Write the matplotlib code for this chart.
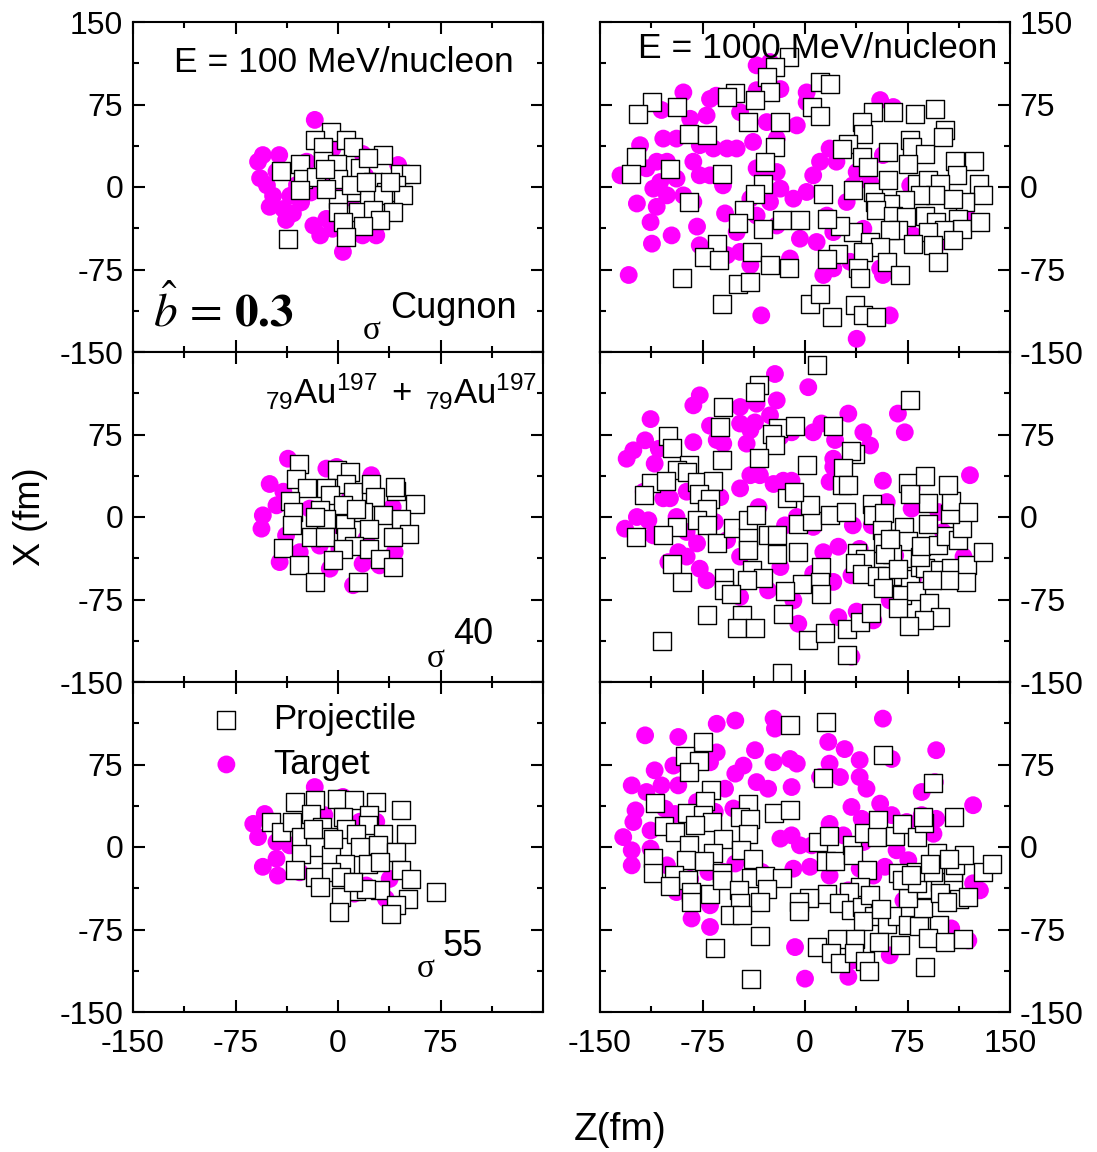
import numpy as np
import matplotlib
matplotlib.use("Agg")
import matplotlib.pyplot as plt

plt.rcParams['font.family'] = ['Liberation Sans', 'DejaVu Sans']
plt.rcParams['mathtext.fontset'] = 'stix'

# ---- panel data, Z (fm) and X (fm) ----
# E = 100 MeV/nucleon, sigma Cugnon
t1_z = [-17, -55, -43, -58.5, -52, -50, -40, -33, -18, -13, 3.6, 28, 18, 44, 18, -4, -23, -35, -27,
        -8.5, -4, -57, -47.5, -10, 0, 10, -20, 20, -45, -30, -38]
t1_x = [61, 29, 29, 23, 1.5, -18, -20, -24, -35, -44, -59, -44, -44, 20, 30, 35, 23, -8, -14,
        -29, -38, 8, -8, 10, 0, -10, -5, 10, 14, 2, -30]
p1_z = [-5, 6, 11, -17, -11, 33, -28, -41.5, -11, -1, 16, 22, 45, 53.7, -25.6, -16, 0, 25.6, 42.7, 35,
        47.5, -28, 12, 0, 23, 33, 0, 14.6, 25.6, 40, 30.5, 3.6, 18, 6, -36.6, -9.8, 9.8, -8.5, 20.7, 37.8]
p1_x = [50, 42.5, 36, 42.5, 36, 29, 21, 15, 24, 21, 17, 26, 12, 12, 7.6, 9, 7.6, 4.5, 1.5, -4.5,
        -7.6, -3, -4.5, -10.6, -10.6, -7.6, -22.7, -22.7, -21, -22.7, -30, -32, -35, -45.5, -47, 16.7, 1.5, -1.5, 4.5, 4.5]

# E = 1000 MeV/nucleon, sigma Cugnon
t2_z = [-89, -105, -84, -69.5, -65, -72, -103.7, -94, -120.7, -135, -116, -108.5, -101, -94, -106, -111, -101,
        -81.7, -77, -69.5, -60, -81.7, -89, -123, -108.5, -113, -112, -97.6, -79, -77, -58.5, -50, -129, -57,
        -47.5, -40, -32, -67, -57, -50, -77, -47.5, -38, -35.4, -25.6, -35.4, -18, -28, -6, -20.7, -35.4, -28,
        -20.7, -40, -25.6, -18, -8.5, -35.4, -20.7, -3.7, 8.5, -11, 1.2, 1.2, 11, 6, 1.2, 18, 23, 16, 20.7,
        13.4, 20.7, 33, 30.5, 42.7, 37.8, 47.6, 55, 64.6, 57, 57, 62, 37.8, 55, 79, 96, 118, 77, 35]
t2_x = [86, 70, 62, 80, 83, 65, 44, 44, 38, 10.6, 17, 23, 23, 7.6, 4.5, -1.5, -7.6,
        23, 10.6, 10.6, 1.5, -13.6, -7.6, -15, -18, -32, -51.5, -44, -36, -53, -24, -41, -80, -62,
        -59, -71, -116.7, 35, 35, 35, 38, 68, 41, 110.6, 113.6, 88, 89, 59, 56, 44, 17, 17,
        13.6, -10.6, -13.6, -1.5, -10.6, -26, -35, -47, -50, -65, 86, 77, 23, 10.6, -4.5, 35, 23, -26, -41,
        -80, -74, -68, -13.6, -38, 13.6, 4.5, 79, 72.7, 29, -80, -116.7, -138, -74, -44, -53, -26, 1.5, 1.5]
p2_z = [-12, -22, -28, 11, 18, -25.6, -51, -57, -36.6, -112, -94, -122, 5, 11, 50, 64.6, 80.5, 95, -41.5, -18,
        41.5, -85, -72, 102.4, 101, 42.7, 31.7, 27, -22, 77, 78, 88, 61, -124, -99, -127, -61, -29, 41.5, 46,
        75.6, 110, 124, 111, -30.5, -36.6, -85, -45, -48.8, -17, -3.7, -30.5, 13.4, 35, 50, 61, 81.7, 90, 98.8, 127,
        130.5, 117, 108.5, 95, 84, 73, 62, 51, 52, 64.6, 74, 88, 96, 112, 114.6, 128, 102, 90, 68, 62,
        35, 25.6, 16, 47.6, 55, 79, 94, 108.5, 42.7, 24.4, 16, 59.8, 39, 69.5, 97.6, -39, -64.6, -74, -63, -25.6,
        -12, -90, -48.8, -40, -61, 3.7, 11, 36.6, 19.5, 42.7, 52, 40]
p2_x = [118, 109, 100, 95.5, 94, 86, 85, 82, 79, 77, 73, 66.7, 73, 65, 68, 68, 66.7, 71, 59, 59,
        59, 48.5, 47, 51.5, 45.5, 48.5, 39.4, 35, 36.4, 42.5, 36.4, 30, 32, 27, 16.7, 12, 12, 22.7, 27, 18,
        21, 24, 24, 10.6, 3, -6, -13.6, -21, -33, -30, -30, -38, -6, -3, -4.5, 6, 3, 6, 3, 3,
        -7.6, -13.6, -10.6, -7.6, -7.6, -12, -15, -13.6, -21, -26, -27, -26, -32, -29, -38, -32, -39, -41, -39, -39,
        -41, -35, -29, -50, -54.5, -51.5, -53, -48.5, -59, -60.6, -65, -68, -74, -80, -68, -59, -51.5, -63.6, -66.7, -71,
        -74, -83, -88, -86, -106, -106, -97, -107.6, -118, -116.7, -118, -83]

# E = 100 MeV/nucleon, sigma = 40
t3_z = [-36.6, -50, -55, -56, -42.7, -6, 11, 18, 30.5, 41.5, 24.4, -8.5, -1, 40, -28, -38, -45, -40, -13.4, 1,
        20.7, -20.7, -3.7, 8.5]
t3_x = [53, 30, 1.5, -10.6, -41, -47, -62, -42.5, -44, -32, 38, 44, 45.5, 9, -32, -16.7, 10.6, 23, -26, -29,
        -20, 7.6, -7.6, 16.7]
p3_z = [-28.8, -30.5, -23, -1, 8.5, 6, -8.5, -6, 11, 24.4, 27, 42.7, 41.5, 56, -35.4, -33, -13.4, 3.7, 18, 33,
        46, 52, -8.5, 5, 23, 40, -34, -19.5, -9.8, 6, 12, 23, 3.7, -40, -3.7, 30.5, 40, -28.8, -16.6, 14.6,
        -17, 13.4]
p3_x = [48.5, 35, 26, 42.5, 41, 30, 26, 19.7, 22.7, 30, 18, 24, 27, 12, 15, 4.5, 6, 10.6, 5, 1.5,
        -1.5, -15, -1.5, -6, -10.6, -18, -7.6, -18, -18, -18, -26, -29, -29, -28, -39, -38, -45.5, -44, -59, -59,
        0, 7.6]

# E = 1000 MeV/nucleon, sigma = 40
t4_z = [-22, 2.4, -77, -81.7, -47.5, -35.4, -20.7, -25.6, -47.5, -36.6, -69.5, -113, -117, -125.6, -130.5, -107,
        -110, -81.7, -64.6, -59.8, -42.7, -40, -18, -9.8, 6, 12, 31.7, 42.7, 47.6, 22, 20.7, 20.7, 68, 73, 120.7,
        57, 78, 59.8, 78, 97.6, 101, 116, 18, -47.5, -40, -33, -23, -15.9, -9.8, -34, -6, -14.6, 6, 35, 48.8,
        -118, -103.7, -98.8, -86.6, -62, -123, -114.6, -131.7, -111, -94, -86.6, -79, -66, -57, -92.7, -86.6, -100,
        -77, -72, -47.5, -47.5, -27, -18, -8.5, -4.9, 13.4, 24.4, 6, 20.7, 40, 34, 62, 24.4, 37.8, 50, 34, 79,
        66, 105]
t4_x = [130, 118, 110.6, 101.5, 100, 103, 106, 92.4, 85, 86, 83, 89, 69.7, 60.6, 53, 62,
        48.5, 68, 70, 66.7, 66.7, 79, 73, 77, 77, 85, 94, 77, 65, 70, 53, 45.5, 94, 77, 38,
        33, 26, 13.6, 7.6, 4.5, -13.6, -36, 32, 26, 38, 38, 30, 33, 33, 9, 0, -7.6, -9, -7.6, -7.6,
        23, 17, 17, 23, 18, 0, -3, -10.6, -16.7, 0, -13.6, -24, -4.5, -21, -32, -36, -41,
        -47, -57.6, -36, -72.7, -66.7, -45.5, -75.8, -97, -32, -27, -51.5, -59, -29, -53, -75.8, -91, -86, -94, -127, -56,
        -35, -47]
p4_z = [8.5, -34, -36.6, -60, 77, -62, -19.5, -7.3, 20.7, -24.4, -22, -100, -97.6, -61, -34, 1.2, 36.6, 34, 27.6, -85,
        -93.4, -86.6, -113, -102, -118, -79, -67, -77.6, -69.5, -72, -79, -71.5, -94, -103.7, -124, -64.6, -97.6, -90,
        -52.4, -41.5, -42, -41.5, -36, -27, -20.7, -20.7, -4.9, -4.9, 5, 3.7, -13.4, -8, 18, 30, 26.8, 31.7, 12, 11,
        11.5, -2.4, -15, -39, -31, -42.7, -59, -59, -54, -72, -46, -49.5, -36.6, -15.9, -105, -17, 2.4, 14.6, 30.5,
        31, 40, 48, 48.8, 50, 58, 56, 67, 72.4, 75.6, 57, 63.4, 58.5, 37.8, 44, 36.6, 42, 52.4, 59.8, 72, 77,
        56.8, 70.7, 81, 68.3, 91, 98.8, 87, 76, 84, 87.8, 98.8, 107, 118.8, 118, 105, 93, 84, 85, 97.6, 103, 112,
        114.6, 106, 107, 119, 89.8, 89.8, 75.6, 77, 88, 104.4, 130, 62, 68]
p4_x = [138, 119.7, 114, 100, 106, 82, 81, 83, 82.7, 75.8, 65.8, 74, 62.7, 51.5, 53.6, 47, 57.6, 59.7, 44.5, 47,
        43, 41, 31, 32.4, 20.3, 31.8, 32.4, 21, 16.7, 7.6, -3, -7.6, -9, -16, -18, -24, -42.4, -59,
        -10, -18, -30, -2.4, 2, -16, -16.7, -34, -32, -6, -4, 10.6, 17, 22.7, 1.5, 5, 29, 29, -45.5, -59,
        -69.7, -60.6, -67.6, -48, -55, -57, -55.5, -66.7, -69.7, -89, -89, -101, -101, -88.5, -113, -141.5, -112, -105, -125,
        -101.5, -95, -87, 12, 1.5, 4, -12, -19.7, -9, -22, -24, -34, -34, -33, -38.5, -41.5, -51.5, -53.6, -53.6, -53.6, -56.7,
        -64.5, -70.6, -67.6, -82.7, -77.9, -91, -94, -99, -45.5, -46.4, -48, -46.4, -44, -59, -57.6, -57.6, -36, -26, -25, -17, -21,
        -10, 3, 14.5, 4.5, 12.7, -6, 31, 21, 37, 29.4, -32, -19.7, -47]

# E = 100 MeV/nucleon, sigma = 55
t5_z = [-17, -53.6, -62, -58.5, -45, -55, -44, -45, 3.6, -10, 16, 28, -28, 37.8, 35, 12, 20.7, -35.4]
t5_x = [54.5, 30, 21, 9, 4.5, -18, -26, -10.6, 45.5, 29, 23, 23, -23, -29, -47, -42.4, -35, 1.5]
p5_z = [-31.7, -17, -0.7, 11.5, 27.6, 46, -48.8, -41.5, -33.4, -19.5, -12, 3.7, 6, 23, 22, 33, 50, -26.8, -7.3, 13,
        -17, 16, 29, 42.7, -26.8, -4.9, 5, 22, 30.5, -31.7, -17, -4.9, 2.4, 46, 53.7, 72, -13.4, 13, 30.5, 20.7,
        2.4, 51, 42.7, 39, 0.7, 11, -18, -3.7]
p5_x = [41, 42.5, 44, 42.5, 41, 33.3, 22.7, 13.6, 22.7, 30, 18, 27, 16.7, 29, 19.7, 12, 12, 9, 9, 12,
        0, 0, 1.5, -4.5, -6, -7.6, -15, -15, -13.6, -21, -27, -22.7, -27, -21, -29, -41, -36.4, -40, -39.4, -38,
        -45.5, -47, -53, -60.6, -59, -32, 16.7, 7.6]

# E = 1000 MeV/nucleon, sigma = 55
t6_z = [-117, -92.7, -64.6, -51, -23, -22, 57, 17, 29, 96, 63.4, -36.6, -23, -11, -6, 18, 11, 25.6, 40, 40,
        45, -9.8, -64.6, -69.5, -45, -51, -110, -96.3, -126.8, -116, -105, -92.7, -58.5, -35.4, -27, -124, -125.6,
        -113, -102.4, -95, -79, -66, -52.4, -42.7, -133, -126.8, -113, -126.8, -101, -94, -84, -70.7, -69.5, -83,
        -69.5, -59.8, -51, -31.7, -18, -9.8, -3.7, 5, -8.5, 3.7, 18, 28, 42.7, 34, 41.5, 55, 63.4, 74.4, 67,
        75.6, 58.5, 50, 40, 31.7, 85.4, 95, 96, 85.4, 94, 123, 128, 123, 107, 119.5, 62, 35, 31.7, 47.6, 0,
        -7.3, 18, 72]
t6_x = [101.5, 100, 112, 115, 116.7, 107.6, 116.7, 95.5, 89, 88, 80, 88, 77, 80, 75.8, 75.8, 63.6, 63.6, 79, 63.6,
        53, 54.5, 86, 77, 74, 66.7, 69.7, 74, 56, 50, 56, 56, 53, 59, 53, 33.3, 22.7,
        15, 34.8, 30, 41, 32, 35, 22.7, 9, -3, -1.5, -16.7, -16.7, -41, -29, -22.7, -53, -65,
        -72.7, -22.7, -15, -22.7, 7.6, 10.6, 1.5, 1.5, -19.7, -18, 21, 10.6, 4.5, 36.4, 25.6, 39.4, 29, 22.7, -3,
        -12, -18, -26, -19.7, -39.4, 50, 59, 25.6, 29, 12, 38, -39.4, -33, -74, -85, -98.5, -103, -118, -113.6, -119.7,
        -91, -26, -48.5]
p6_z = [-11, 15, -74.9, -88, -77.8, -84.6, 57, 13, 94, -68.8, -73, -109.8, -86, -74.9, -68, -42, -47.6, -40, -23, -11,
        -103, -95, -80.5, -84.6, -41.5, -59.8, -47, -67, -37.8, -111, -87, -73.7, -111, -95.9, -85.4, -99, -83.7, -83.7,
        -69.5, -60.5, -61, -39.5, -29.3, -16.8, -28, -48, -33, -47.6, -55, -46, -32.7, -65.9, -39.8, 9.8, 17.8, 15.4,
        22, 34.6, 35.4, 43.4, 53.7, 53, 66, 71, 81.7, 87, 86.6, 109, 45, 40, 32.2, 16.3, 3.2, -4.4, -4.4, 25,
        33.4, 42, 47.6, 50.5, 59.8, 42.2, 67, 77, 75.6, 83.7, 98.3, 86.6, 75, 88.5, 98.8, 108, 99, 113, 119.5, 103.7,
        68, 70.7, 81.7, 81.2, 94, 108, 109.8, 116, 130, 136.6, 96.3, 91.5, 105.6, 77.6, 89.8, 102.7, 115.8, 69.5,
        54.4, 36.6, 23.7, 8.5, 18.8, 25.6, 35.9, 43.9, 47, 87.8, 55.6]
p6_x = [110.6, 113.6, 95.5, 82.7, 78, 68, 84, 62.7, 58.5, 52, 41.5, 40, 31, 29.4, 23, 38.8, 27, 25.8, 31, 34,
        19, 13.6, 19.7, 2, 12, 7, -2.4, -5, -10.6, -10, -12, -12.7, -24, -25, -30, -35.8, -41, -50,
        -43, -24, -30, -28, -26.7, -28, -38, -39.4, -50, -50.6, -61.5, -62, -81, -92, -119.7, 5, 10, -13,
        -12.7, 1.5, -7.6, 13, 25, 9, 10, 21, 9, 21.8, 27, 27, -20.6, -36.4, -41, -42.4, -46.4, -50, -58.5, -50.6,
        -57, -54.5, -44, -62.7, -69.7, -67.6, -63, -58.5, -71, -71.8, -71, -55.5, -46.4, -38.5, -32, -32, -41.5, -47, -45.5, -50,
        -24, -30, -33, -22.7, -22.7, -23, -16, -7, -22.7, -15, -5, -15, -11, -25, -82.7, -86.4, -83.3, -88.8,
        -86.4, -84, -83.3, -91, -96, -105.5, -96, -104, -113, -109, -56]

panels = [
    (t1_z, t1_x, p1_z, p1_x), (t2_z, t2_x, p2_z, p2_x),
    (t3_z, t3_x, p3_z, p3_x), (t4_z, t4_x, p4_z, p4_x),
    (t5_z, t5_x, p5_z, p5_x), (t6_z, t6_x, p6_z, p6_x),
]

ticks = [-150, -75, 0, 75, 150]
magenta = '#ff00ff'

W, H = 1097, 1152
fig = plt.figure(figsize=(W / 100, H / 100), dpi=100)

col_left = [133, 600]
row_top = [22, 352, 682]
pw, ph = 410, 330

axes = []
for r in range(3):
    for c in range(2):
        ax = fig.add_axes([col_left[c] / W, 1 - (row_top[r] + ph) / H, pw / W, ph / H])
        tz, tx, pz, px = panels[r * 2 + c]
        ax.scatter(tz, tx, s=165, color=magenta, edgecolors='none', zorder=2, label='Target')
        ax.scatter(pz, px, s=150, marker='s', facecolors='white', edgecolors='black',
                   linewidths=1.0, zorder=3, label='Projectile')
        ax.set_xlim(-150, 150)
        ax.set_ylim(-150, 150)
        ax.set_xticks(ticks)
        ax.set_yticks(ticks)
        ax.set_xticks(np.arange(-112.5, 150, 75), minor=True)
        ax.set_yticks(np.arange(-112.5, 150, 75), minor=True)
        ax.tick_params(which='both', direction='in', top=True, right=True, width=1.5, labelsize=23)
        ax.tick_params(which='major', length=8.5)
        ax.tick_params(which='minor', length=4.5)
        for sp in ax.spines.values():
            sp.set_linewidth(1.5)

        # y tick labels
        ylabs = ['-150', '-75', '0', '75', '150' if r == 0 else '']
        ax.set_yticklabels(ylabs)
        if c == 1:
            ax.tick_params(axis='y', labelleft=False, labelright=True, pad=7)
        else:
            ax.tick_params(axis='y', pad=7)
        # x tick labels
        if r == 2:
            xlabs = ['-150', '-75', '0', '75', '150' if c == 1 else '']
            ax.set_xticklabels(xlabs)
            ax.tick_params(axis='x', pad=12)
        else:
            ax.tick_params(axis='x', labelbottom=False)
        axes.append(ax)

a1, a2, a3, a4, a5, a6 = axes

a1.text(0.515, 0.876, 'E = 100 MeV/nucleon', transform=a1.transAxes, ha='center', va='center', fontsize=25.5)
a2.text(0.532, 0.921, 'E = 1000 MeV/nucleon', transform=a2.transAxes, ha='center', va='center', fontsize=25.5)
a1.text(0.049, 0.124, r'$\hat{b}\,=\,\mathbf{0.3}$', transform=a1.transAxes, ha='left', va='center', fontsize=34)

sig = dict(family=['Liberation Serif', 'DejaVu Serif'], fontsize=24, ha='center', va='center')
a1.text(0.583, 0.064, '\u03c3', transform=a1.transAxes, **sig)
a1.text(0.627, 0.133, 'Cugnon', transform=a1.transAxes, ha='left', va='center', fontsize=26)
a3.text(0.739, 0.07, '\u03c3', transform=a3.transAxes, **sig)
a3.text(0.780, 0.145, '40', transform=a3.transAxes, ha='left', va='center', fontsize=26)
a5.text(0.715, 0.13, '\u03c3', transform=a5.transAxes, **sig)
a5.text(0.756, 0.20, '55', transform=a5.transAxes, ha='left', va='center', fontsize=26)

a3.text(0.322, 0.842, r'$\mathregular{{}_{79}Au^{197}\ +\ {}_{79}Au^{197}}$', transform=a3.transAxes,
        ha='left', va='baseline', fontsize=25)

h, l = a5.get_legend_handles_labels()
a5.legend([h[1], h[0]], [l[1], l[0]], loc='upper left', bbox_to_anchor=(0.16, 0.935), frameon=False,
          fontsize=25, borderpad=0, borderaxespad=0, handletextpad=0.55, labelspacing=0.32,
          handlelength=1.6)

fig.text(30 / W, 1 - 517 / H, 'X (fm)', rotation=90, ha='center', va='center', fontsize=26)
fig.text(620 / W, 1 - 1130 / H, 'Z(fm)', ha='center', va='center', fontsize=28)

fig.savefig('out.png', dpi=100)
